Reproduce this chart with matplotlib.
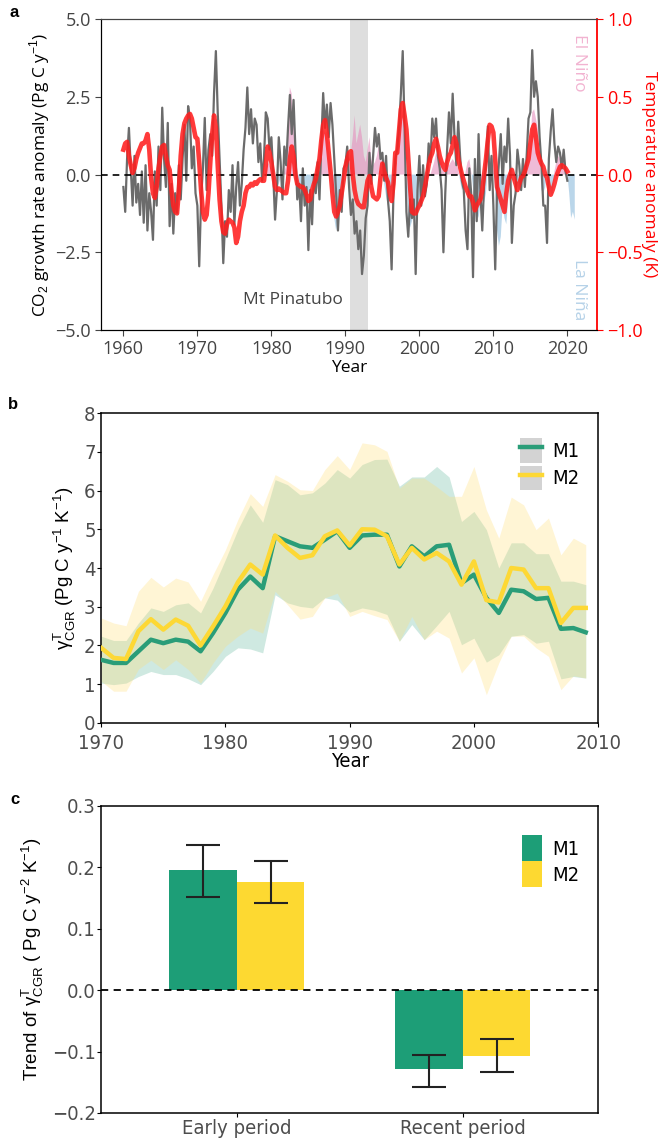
import numpy as np
import matplotlib.pyplot as plt
from matplotlib.patches import Patch
from matplotlib.lines import Line2D
from matplotlib import font_manager

# ---------------- data: panel a (quarterly samples, 1960.0 - 2020.0) ----------------
cgr_start = 1960.0
cgr_anom = [
    -0.4, -1.2, 0.5, 1.5,   0.2, -1.0, 0.6, -0.9,   -0.3, -1.3, 0.1, -1.55,  0.3, -1.8, -0.6, -1.2,
    -2.1, 0.1, -1.0, 0.9,   -0.5, 2.15, 0.5, -0.4,  1.66, -1.66, -0.3, -1.9, -0.6, -1.23, 0.3, -0.8,
    0.5, 1.6, -0.2, 2.2,    1.77, 0.2, 0.9, -0.6,   -1.0, -2.95, -0.8, 0.2,  1.82, -0.5, 0.8, 1.3,
    0.6, 2.6, 3.97, 2.0,    0.5, -1.0, -2.85, -1.5, -2.0, -0.5, -1.2, 0.3,   -1.6, -0.4, 0.4, -1.0,
    -0.3, 0.8, 1.5, 2.8,    1.3, 2.1, 1.0, 1.8,     1.6, 0.4, 1.0, -0.2,     0.5, 2.0, 1.8, 0.8,
    1.2, 0.0, -1.45, -0.5,  1.2, 0.4, -0.8, 0.9,    0.3, 1.5, 2.56, 1.3,     2.4, 0.8, -0.8, -0.3,
    -1.5, 0.2, -1.0, -0.4,  -2.43, -0.5, -1.6, 0.0, -0.6, 0.4, -0.8, 1.0,    2.62, 1.5, 2.25, 1.2,
    2.3, 1.6, 0.5, -0.6,    -1.8, -0.5, -1.2, 0.2,  0.3, 0.9, -0.4, -1.3,    -0.8, -1.9, -1.5, -2.4,
    -1.8, -3.2, -2.6, -1.4, -1.0, 0.7, -0.3, 0.6,   1.5, 0.9, 1.3, 0.5,      0.7, -0.2, 0.6, -0.8,
    -1.5, -3.05, -0.6, 0.5, 0.8, 1.5, 2.6, 3.97,    1.5, -1.2, -2.0, -0.8,   -1.4, -0.8, -3.2, -0.5,
    0.6, -1.0, 0.3, -0.7,   -0.3, 1.0, 0.4, 1.8,    1.2, 1.8, 0.6, 0.2,      -0.5, -2.5, -0.6, 0.8,
    2.0, 1.0, 2.6, 1.2,     0.3, 1.7, 0.6, -0.2,    -0.5, -1.8, -2.4, 0.2,   -0.6, -3.3, 0.5, -1.5,
    1.3, -0.6, -1.8, -0.3,  0.4, 1.55, -0.5, 0.6,   -1.0, -3.05, -0.5, 0.4,  1.3, -0.3, 0.9, 0.4,
    1.8, 0.6, -2.2, -1.0,   -0.6, 0.8, 0.3, -0.5,   0.5, -0.4, 0.6, 1.8,     2.0, 4.0, 2.5, 3.0,
    2.5, 1.2, 0.3, -1.0,    -1.0, -2.2, 0.5, 1.4,   2.1, 1.0, 0.4, 0.9,      0.7, 0.2, 0.8, 0.1,
    -0.2,
]

# temperature anomaly (K), quarterly, 1960.0 - 2020.0
temp_anom = [
    0.16, 0.20, 0.21, 0.12,    0.06, 0.01, 0.04, 0.10,    0.14, 0.17, 0.20, 0.20,    0.22, 0.26, 0.16, -0.02,
    -0.12, -0.15, -0.08, 0.04, 0.12, 0.18, 0.19, 0.12,    0.06, 0.03, -0.10, -0.20,  -0.24, -0.25, -0.10, 0.12,
    0.26, 0.33, 0.36, 0.38,    0.39, 0.36, 0.30, 0.24,    0.23, 0.08, -0.10, -0.24,  -0.29, -0.26, -0.12, 0.08,
    0.26, 0.38, 0.30, 0.06,    -0.16, -0.30, -0.37, -0.38, -0.32, -0.29, -0.30, -0.31, -0.34, -0.44, -0.40, -0.30,
    -0.24, -0.20, -0.12, -0.08, -0.08, -0.06, -0.07, -0.05, -0.06, -0.04, -0.03, -0.04, -0.04, 0.06, 0.18, 0.14,
    0.08, 0.00, -0.08, -0.10,  -0.09, -0.10, -0.11, -0.12, -0.12, -0.04, 0.10, 0.18,   0.12, 0.00, -0.06, -0.07,
    -0.08, -0.08, -0.10, -0.13, -0.17, -0.16, -0.10, -0.06, -0.03, 0.04, 0.10, 0.22,  0.32, 0.35, 0.26, 0.14,
    0.02, -0.12, -0.24, -0.27, -0.24, -0.20, -0.12, -0.04, 0.05, 0.10, 0.14, 0.15,    0.00, -0.10, -0.16, -0.19,
    -0.20, -0.21, -0.21, -0.12, -0.04, -0.01, -0.08, -0.14, -0.15, -0.16, -0.14, -0.02, 0.07, 0.02, -0.02, -0.05,
    -0.12, -0.17, -0.06, 0.14, 0.14, 0.28, 0.42, 0.46,    0.38, 0.29, 0.10, -0.08,   -0.24, -0.25, -0.25, -0.22,
    -0.20, -0.17, -0.14, -0.08, -0.01, 0.06, 0.11, 0.14,  0.20, 0.23, 0.18, 0.12,    0.08, 0.05, 0.03, 0.08,
    0.12, 0.14, 0.19, 0.24,    0.20, 0.10, 0.05, 0.00,    -0.04, -0.08, -0.11, -0.14, -0.14, -0.18, -0.23, -0.20,
    -0.18, -0.16, -0.10, 0.00, 0.10, 0.22, 0.32, 0.31,    0.27, 0.10, -0.08, -0.12,  -0.16, -0.20, -0.24, -0.12,
    -0.04, 0.00, 0.03, -0.02,  -0.06, -0.10, -0.06, -0.02, -0.01, 0.02, 0.06, 0.10,   0.20, 0.29, 0.32, 0.24,
    0.14, 0.10, 0.07, 0.05,    0.00, -0.02, -0.08, -0.13, -0.10, -0.06, -0.01, 0.02,  0.05, 0.06, 0.05, 0.04,
    0.02,
]

# ENSO index (scaled to CO2 axis units), quarterly, 1979.0 - 2021.0
enso_start = 1979.0
enso_index = [
    0.0, 0.2, 0.4, 0.3,     0.2, 0.0, -0.2, -0.4,   -0.3, -0.1, 0.0, 0.1,    0.3, 1.5, 2.8, 2.6,
    1.8, 0.6, -0.3, -0.6,   -0.5, -0.4, -0.8, -0.7, -0.6, -0.5, -0.3, -0.2,  0.1, 0.5, 0.9, 1.2,
    1.45, 1.3, 1.4, 0.8,    0.3, -0.6, -1.4, -1.8,  -1.5, -0.8, -0.3, 0.1,   0.3, 0.6, 0.5, 0.7,
    1.2, 1.9, 1.0, 1.3,     1.6, 1.2, 0.6, 0.4,     0.8, 1.2, 0.5, 0.3,      0.4, 0.6, 0.9, 0.6,
    0.2, -0.3, -0.7, -1.0,  -0.8, -0.5, -0.3, -0.1, 0.4, 1.8, 2.2, 2.0,      1.2, 0.0, -1.4, -1.7,
    -1.5, -1.2, -1.3, -1.0, -1.2, -0.8, -0.6, -0.4, -0.2, -0.1, 0.0, 0.2,    0.4, 0.7, 0.6, 0.5,
    0.4, 0.1, 0.2, 0.3,     0.3, 0.4, 0.5, 0.4,     0.3, 0.2, -0.2, -0.5,    -0.3, 0.1, 0.4, 0.5,
    0.1, -0.4, -0.9, -1.2,  -1.4, -0.9, -0.6, -0.9, -0.6, 0.2, 0.5, 0.6,     0.4, -0.6, -1.8, -2.3,
    -2.0, -1.0, -1.4, -1.6, -0.8, 0.0, 0.3, -0.1,   -0.3, -0.4, -0.5, -0.3,  -0.1, 0.4, 0.3, 0.6,
    1.0, 2.0, 2.1, 1.8,     1.5, 0.5, -0.5, -0.6,   -0.4, 0.2, -0.3, -0.6,   -0.7, 0.1, 0.4, 0.6,
    0.5, 0.6, 0.4, 0.2,     0.0, -0.6, -1.4, -1.2,  -1.45,
]

pinatubo = (1990.6, 1993.0)

# ---------------- data: panel b ----------------
years_b = list(range(1970, 2010))
m1_mean = [1.63, 1.55, 1.55, 1.85, 2.15, 2.06, 2.15, 2.10, 1.85, 2.32,
           2.84, 3.44, 3.78, 3.48, 4.82, 4.69, 4.56, 4.52, 4.73, 4.95,
           4.52, 4.84, 4.86, 4.86, 4.04, 4.56, 4.30, 4.56, 4.60, 3.61,
           3.83, 3.23, 2.84, 3.44, 3.40, 3.20, 3.23, 2.43, 2.45, 2.34]
m1_low = [1.03, 0.99, 1.03, 1.20, 1.33, 1.25, 1.25, 1.14, 0.99, 1.33,
          1.72, 1.94, 1.91, 1.81, 3.31, 3.10, 3.01, 2.97, 3.23, 3.17,
          2.86, 2.97, 2.91, 2.80, 2.11, 2.54, 2.15, 2.51, 2.88, 2.02,
          2.19, 1.57, 1.76, 2.24, 2.28, 2.06, 2.11, 1.14, 1.20, 1.16]
m1_high = [2.24, 2.13, 2.13, 2.58, 2.97, 2.88, 3.05, 3.10, 2.84, 3.48,
           4.22, 4.99, 5.63, 5.18, 6.28, 6.15, 5.89, 5.94, 6.19, 6.54,
           6.32, 6.67, 6.80, 6.81, 6.11, 6.35, 6.35, 6.62, 6.35, 5.20,
           5.46, 4.99, 4.00, 4.65, 4.65, 4.37, 4.37, 3.66, 3.66, 3.57]
m2_mean = [1.94, 1.68, 1.65, 2.37, 2.68, 2.41, 2.67, 2.51, 2.00, 2.49,
           3.01, 3.63, 4.09, 3.83, 4.84, 4.52, 4.26, 4.33, 4.82, 4.97,
           4.58, 5.00, 4.99, 4.82, 4.09, 4.52, 4.22, 4.39, 4.17, 3.57,
           4.17, 3.17, 3.11, 4.00, 3.96, 3.48, 3.48, 2.58, 2.97, 2.97]
m2_low = [1.08, 0.82, 0.82, 1.39, 1.62, 1.38, 1.63, 1.38, 1.03, 1.55,
          1.98, 2.24, 2.45, 2.32, 3.40, 3.05, 2.68, 2.75, 3.23, 3.35,
          2.75, 2.88, 2.77, 2.67, 2.11, 2.75, 2.15, 2.37, 2.19, 1.29,
          1.68, 0.73, 1.55, 2.24, 2.24, 1.94, 1.72, 0.86, 1.22, 1.16]
m2_high = [2.71, 2.58, 2.51, 3.40, 3.76, 3.51, 3.74, 3.64, 3.14, 3.83,
           4.47, 5.25, 5.92, 5.59, 6.41, 6.24, 6.02, 6.00, 6.54, 6.90,
           6.54, 7.23, 7.18, 7.01, 6.06, 6.32, 6.32, 6.10, 5.85, 5.85,
           6.62, 5.50, 4.77, 5.83, 5.63, 4.99, 5.29, 4.34, 4.77, 4.60]

# ---------------- data: panel c ----------------
periods = ["Early period", "Recent period"]
trend_m1 = [0.195, -0.128]
trend_m1_lo = [0.152, -0.157]
trend_m1_hi = [0.236, -0.105]
trend_m2 = [0.177, -0.108]
trend_m2_lo = [0.142, -0.133]
trend_m2_hi = [0.211, -0.080]

GREEN = "#1d9e77"
YELLOW = "#fdd931"

# narrow font for panels b and c, if one is around
fonts = font_manager.fontManager.ttflist
names = {f.name for f in fonts}
NARROW = {"family": ["Liberation Sans", "DejaVu Sans"]}
if "Liberation Sans Narrow" in names:
    NARROW = {"family": ["Liberation Sans Narrow", "DejaVu Sans"]}
elif any(f.name == "DejaVu Sans" and f.stretch == "condensed" for f in fonts):
    NARROW = {"family": ["DejaVu Sans"], "stretch": "condensed"}

FONT_A = ["Open Sans", "DejaVu Sans"]
plt.rcParams["font.family"] = FONT_A
plt.rcParams["mathtext.fontset"] = "custom"
plt.rcParams["mathtext.rm"] = "Liberation Sans"
plt.rcParams["axes.unicode_minus"] = True

fig = plt.figure(figsize=(6.7, 11.4), dpi=100)

# ======================= panel a =======================
ax = fig.add_axes([0.151, 0.7105, 0.740, 0.2728])
t_cgr = cgr_start + 0.25 * np.arange(len(cgr_anom))
t_enso = enso_start + 0.25 * np.arange(len(enso_index))
enso = np.array(enso_index)

ax.axvspan(pinatubo[0], pinatubo[1], color="#dedede", lw=0, zorder=0)
ax.fill_between(t_enso, 0, enso, where=enso >= 0, interpolate=True,
                color="#e58fbd", alpha=0.6, lw=0, zorder=1)
ax.fill_between(t_enso, 0, enso, where=enso <= 0, interpolate=True,
                color="#8dbbdc", alpha=0.6, lw=0, zorder=1)
ax.plot(t_cgr, cgr_anom, color="#6b6b6b", lw=1.6, zorder=2)
ax.axhline(0, color="black", ls=(0, (4, 3)), lw=1.2, zorder=4)

ax.set_xlim(1957, 2024)
ax.set_ylim(-5, 5)
ax.set_yticks([-5, -2.5, 0, 2.5, 5])
ax.set_yticklabels(["\u22125.0", "\u22122.5", "0.0", "2.5", "5.0"])
ax.set_xticks([1960, 1970, 1980, 1990, 2000, 2010, 2020])
ax.tick_params(labelsize=13, colors="#444444", length=4)
ax.set_xlabel("Year", fontsize=12.5, labelpad=1)
ax.set_ylabel("CO$_2$ growth rate anomaly (Pg C y$^{-1}$)", fontsize=12.5, labelpad=2)
ax.spines["top"].set_color("#444444")
ax.spines["right"].set_visible(False)

ax.text(1989.6, -4.05, "Mt Pinatubo", ha="right", va="center", fontsize=12.5, color="#444444")
ax.text(2021.6, 3.6, "El Ni\u00f1o", rotation=270, ha="center", va="center",
        fontsize=12.5, color="#f2b3d1")
ax.text(2021.6, -3.7, "La Ni\u00f1a", rotation=270, ha="center", va="center",
        fontsize=12.5, color="#b6d2e8")

axr = ax.twinx()
axr.plot(t_cgr, temp_anom, color="#ff1f1f", lw=3.3, alpha=0.88, zorder=3)
axr.set_ylim(-1, 1)
axr.set_yticks([-1, -0.5, 0, 0.5, 1])
axr.set_yticklabels(["\u22121.0", "\u22120.5", "0.0", "0.5", "1.0"])
axr.tick_params(labelsize=13, colors="red", length=4)
axr.spines["right"].set_color("red")
axr.spines["right"].set_linewidth(1.3)
axr.spines["top"].set_color("#444444")
axr.set_ylabel("Temperature anomaly (K)", color="red", fontsize=12.5, rotation=270, labelpad=10)

# ======================= panel b =======================
bx = fig.add_axes([0.151, 0.3658, 0.7418, 0.2719])
bx.fill_between(years_b, m1_low, m1_high, color="#cfe9e1", lw=0, zorder=1)
bx.fill_between(years_b, m2_low, m2_high, color="#ffde76", alpha=0.3, lw=0, zorder=2)
bx.plot(years_b, m1_mean, color="#2a9d78", lw=3.2, zorder=3)
bx.plot(years_b, m2_mean, color="#fdd835", lw=3.2, zorder=4)
bx.set_xlim(1970, 2010)
bx.set_ylim(0, 8)
bx.set_xticks([1970, 1980, 1990, 2000, 2010])
bx.set_yticks(range(0, 9))
for lab in bx.get_xticklabels() + bx.get_yticklabels():
    lab.set(**NARROW)
bx.tick_params(labelsize=14.5, colors="#4d4d4d", length=3, pad=1)
bx.tick_params(axis="x", pad=5)
bx.tick_params(axis="both", color="black")
bx.set_xlabel("Year", fontsize=14.5, labelpad=-1, **NARROW)
bx.set_ylabel("\u03b3$^{\\mathrm{T}}_{\\mathrm{CGR}}$ (Pg C y$^{-1}$ K$^{-1}$)",
              fontsize=13.5, family=["Liberation Sans", "DejaVu Sans"], labelpad=4)
for s in bx.spines.values():
    s.set_linewidth(1.1)
hb = [(Patch(facecolor="#d3d3d3", edgecolor="none"), Line2D([], [], color="#2a9d78", lw=3.2)),
      (Patch(facecolor="#d3d3d3", edgecolor="none"), Line2D([], [], color="#fdd835", lw=3.2))]
bx.legend(hb, ["M1", "M2"], loc="upper right", bbox_to_anchor=(0.99, 0.965), frameon=False,
          prop=dict(size=14.5, **NARROW), handlelength=1.1, handleheight=1.5,
          handletextpad=0.5, labelspacing=0.15, borderaxespad=0.3)

# ======================= panel c =======================
cx = fig.add_axes([0.151, 0.0237, 0.7418, 0.2693])
xpos = np.arange(1, len(periods) + 1)
w = 0.3
cx.bar(xpos - w / 2, trend_m1, width=w, color=GREEN, zorder=2)
cx.bar(xpos + w / 2, trend_m2, width=w, color=YELLOW, zorder=2)
err1 = [np.array(trend_m1) - np.array(trend_m1_lo), np.array(trend_m1_hi) - np.array(trend_m1)]
err2 = [np.array(trend_m2) - np.array(trend_m2_lo), np.array(trend_m2_hi) - np.array(trend_m2)]
cx.errorbar(xpos - w / 2, trend_m1, yerr=err1, fmt="none", ecolor="#222222",
            elinewidth=1.5, capsize=12, capthick=1.5, zorder=3)
cx.errorbar(xpos + w / 2, trend_m2, yerr=err2, fmt="none", ecolor="#222222",
            elinewidth=1.5, capsize=12, capthick=1.5, zorder=3)
cx.axhline(0, color="black", ls=(0, (4, 3)), lw=1.3, zorder=4)
cx.set_xlim(0.4, 2.6)
cx.set_ylim(-0.2, 0.3)
cx.set_xticks(xpos)
cx.set_xticklabels(periods)
cx.set_yticks([-0.2, -0.1, 0.0, 0.1, 0.2, 0.3])
cx.set_yticklabels(["\u22120.2", "\u22120.1", "0.0", "0.1", "0.2", "0.3"])
for lab in cx.get_xticklabels() + cx.get_yticklabels():
    lab.set(**NARROW)
cx.tick_params(labelsize=14.5, colors="#4d4d4d", length=3, pad=1)
cx.tick_params(axis="both", color="black")
cx.set_ylabel("Trend of \u03b3$^{\\mathrm{T}}_{\\mathrm{CGR}}$ ( Pg C y$^{-2}$ K$^{-1}$)",
              fontsize=13.5, family=["Liberation Sans", "DejaVu Sans"], labelpad=4)
for s in cx.spines.values():
    s.set_linewidth(1.1)
hc = [Patch(facecolor=GREEN), Patch(facecolor=YELLOW)]
cx.legend(hc, ["M1", "M2"], loc="upper right", bbox_to_anchor=(0.99, 0.95), frameon=False,
          prop=dict(size=14.5, **NARROW), handlelength=1.0, handleheight=1.6,
          handletextpad=0.5, labelspacing=0.0, borderaxespad=0.3)

# panel letters
fig.text(0.021, 0.989, "a", fontsize=12, fontweight="bold", ha="center", va="center", family="Liberation Sans")
fig.text(0.020, 0.645, "b", fontsize=12, fontweight="bold", ha="center", va="center", family="Liberation Sans")
fig.text(0.022, 0.299, "c", fontsize=12, fontweight="bold", ha="center", va="center", family="Liberation Sans")

fig.savefig("out.png", dpi=100)
